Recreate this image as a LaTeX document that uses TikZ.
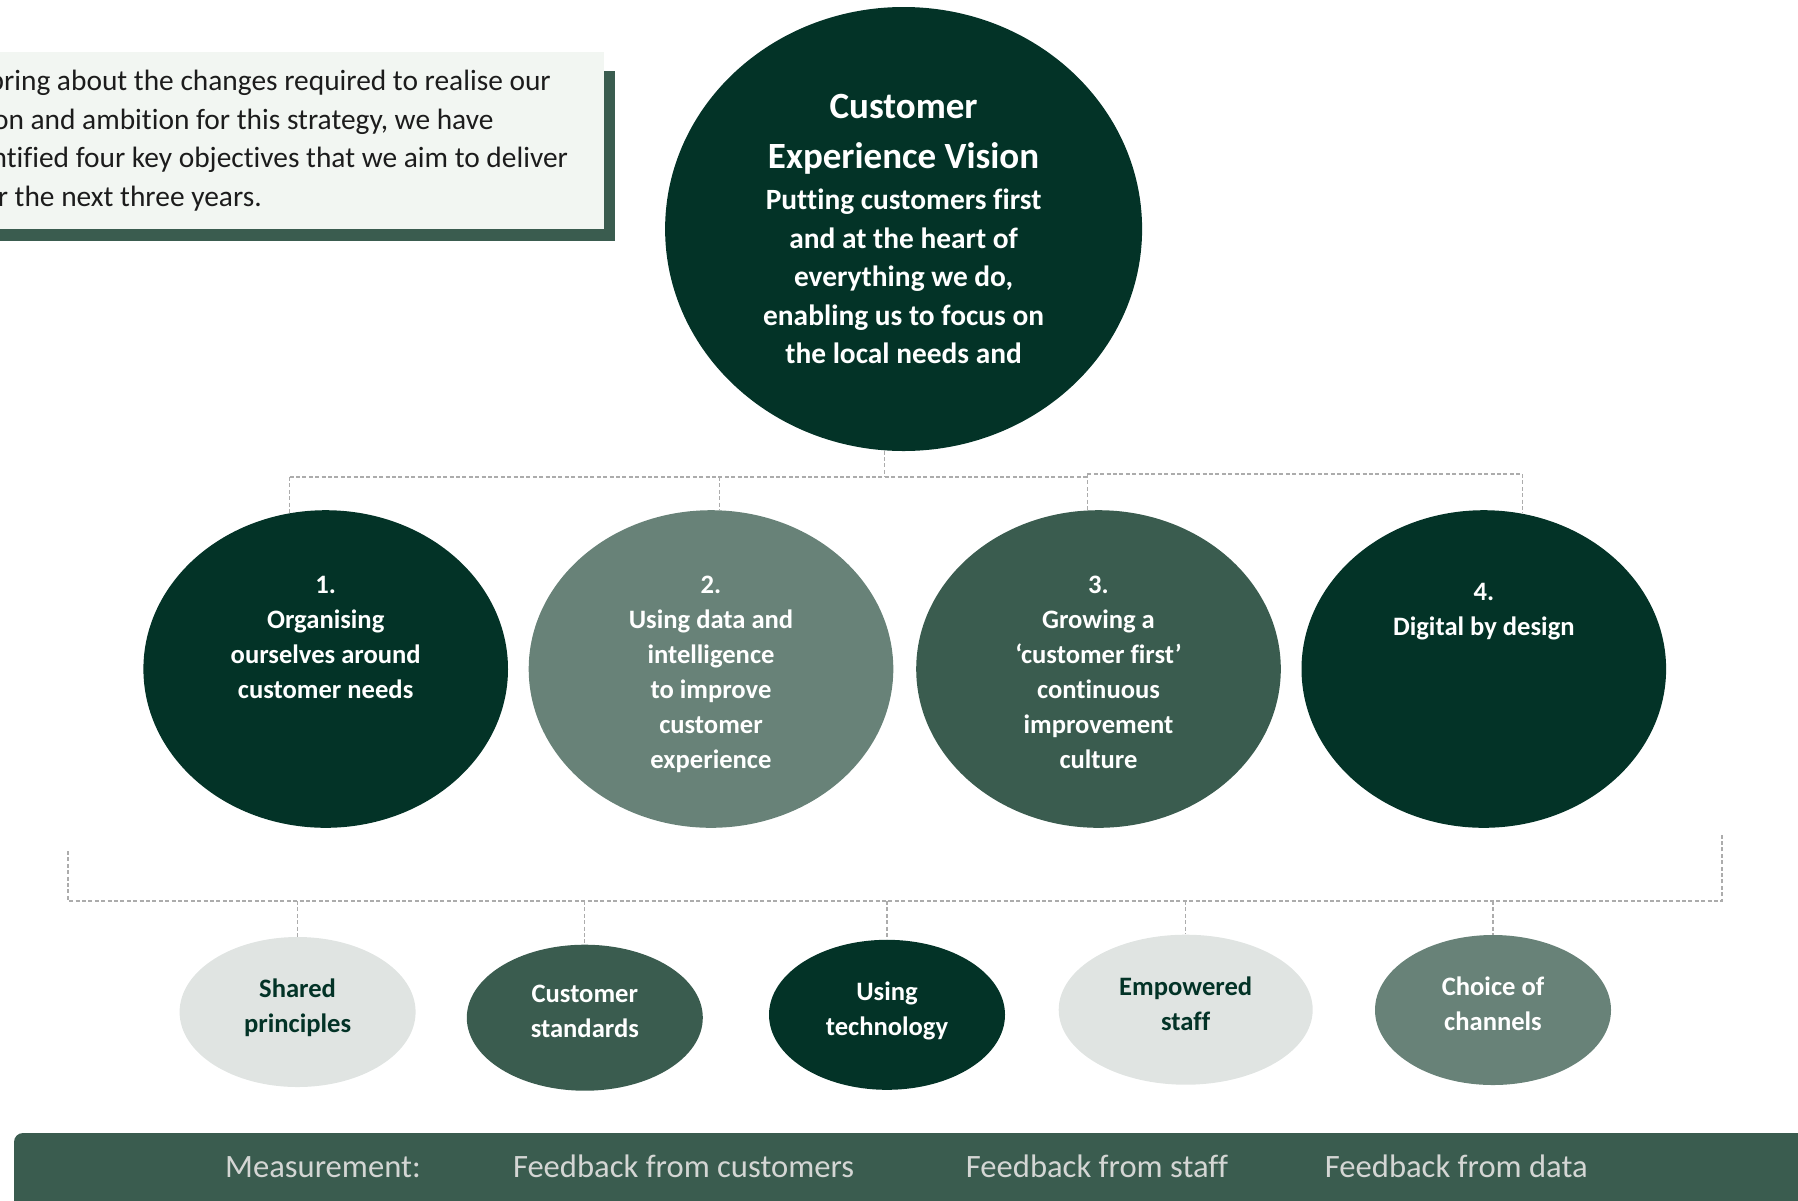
\documentclass[tikz,border=0pt]{standalone}
\usepackage{fontspec}
\setmainfont{Carlito}[Ligatures=NoCommon]
\usetikzlibrary{shapes.geometric,calc}
\definecolor{forest}{RGB}{3,51,39}
\definecolor{pine}{RGB}{58,92,79}
\definecolor{sage}{RGB}{104,130,120}
\definecolor{mist}{RGB}{224,228,226}
\definecolor{paper}{RGB}{242,246,242}
\definecolor{dashgrey}{RGB}{172,172,172}
\definecolor{bartext}{RGB}{212,214,212}
\definecolor{ink}{RGB}{28,28,28}
\newcommand{\goalbox}[2][100pt]{\parbox[c][#1][t]{120pt}{\centering\strut #2}}
\begin{document}
\begin{tikzpicture}[x=0.5pt,y=-0.5pt,
  link/.style={draw=dashgrey,line width=0.6pt,dash pattern=on 2pt off 1.2pt},
  goal/.style={ellipse,minimum width=182.3pt,minimum height=158.8pt,inner sep=0pt,text=white,
    font=\fontsize{13.3}{17.5}\selectfont\bfseries},
  pillar/.style={ellipse,minimum width=118pt,minimum height=75pt,inner sep=0pt,align=center,
    text=white,font=\fontsize{13.3}{17.5}\selectfont\bfseries,
    execute at end node={\rule[-6.4pt]{0pt}{6.4pt}}},
  measure/.style={anchor=base west,inner sep=0pt,text=bartext,font=\fontsize{16.3}{19}\selectfont}]
\useasboundingbox (0,0) rectangle (1798,1200);
\begin{scope}
\clip (0,0) rectangle (1798,1200);
% intro panel
\fill[pine] (0,71) rectangle (615,241);
\fill[paper] (0,52) rectangle (604,229);
\node[anchor=north west,inner sep=0pt,align=left,text=ink,font=\fontsize{14.7}{19.25}\selectfont] (intro) at (-45.6,63.5)
  {\strut To bring about the changes required to realise our\\
   vision and ambition for this strategy, we have\\
   identified four key objectives that we aim to deliver\\
   over the next three years.};
% vision
\node[ellipse,fill=forest,minimum width=238.5pt,minimum height=222pt,inner sep=0pt,text=white,font=\bfseries] (vis) at (903.6,229)
  {\parbox{160pt}{\centering\fontsize{18.5}{25}\selectfont Customer\\ Experience Vision\par\vspace{1.4pt}
   \fontsize{14.7}{19.3}\selectfont Putting customers first\\ and at the heart of\\ everything we do,\\
   enabling us to focus on\\ the local needs and\par}};
% objectives
\node[goal,fill=forest] (o1) at (325.7,669) {\goalbox{1.\\ Organising\\ ourselves around\\ customer needs}};
\node[goal,fill=sage] (o2) at (711,669) {\goalbox{2.\\ Using data and\\ intelligence\\ to improve\\ customer\\ experience}};
\node[goal,fill=pine] (o3) at (1098.5,669) {\goalbox{3.\\ Growing a\\ `customer first'\\ continuous\\ improvement\\ culture}};
\node[goal,fill=forest] (o4) at (1483.8,669) {\goalbox[93.3pt]{4.\\ Digital by design}};
\coordinate (tbusA) at (0,477);
\coordinate (tbusB) at (0,474);
\draw[link] (vis.265) -- (vis.265 |- tbusA);
\draw[link] (o1.103 |- tbusA) -- (o3.94 |- tbusA);
\draw[link] (o3.94 |- tbusB) -- (o4.76 |- tbusB);
\draw[link] (o1.103 |- tbusA) -- (o1.103);
\draw[link] (o2.87.5 |- tbusA) -- (o2.87.5);
\draw[link] (o3.94 |- tbusB) -- (o3.94);
\draw[link] (o4.76 |- tbusB) -- (o4.76);
% enablers
\node[pillar,fill=mist,text=forest] (sp) at (297.6,1012) {Shared\\ principles};
\node[pillar,fill=pine,minimum height=73pt] (cs) at (584.8,1017.7) {Customer\\ standards};
\node[pillar,fill=forest] (ut) at (887,1014.8) {Using\\ technology};
\node[pillar,fill=mist,text=forest,minimum width=127pt] (es) at (1185.7,1009.7) {Empowered\\ staff};
\node[pillar,fill=sage] (cc) at (1493,1010) {Choice of\\ channels};
\coordinate (lbus) at (0,901);
\coordinate (lbL) at (68,851);
\coordinate (lbR) at (1722,835);
\draw[link] (lbL) -- (lbL |- lbus) -- (lbR |- lbus) -- (lbR);
\foreach \p in {sp,cs,ut,es,cc}
  \draw[link] (\p.north |- lbus) -- (\p.north);
% measurement bar
\fill[pine,rounded corners=4.5pt] (14,1133) rectangle (1850,1260);
\node[measure] (mlab) at (224.8,1177) {Measurement:};
\node[measure] (mcus) at (512.6,1177) {Feedback from customers};
\node[measure] (msta) at (965.5,1177) {Feedback from staff};
\node[measure] (mdat) at (1324.5,1177) {Feedback from data};
\end{scope}
\end{tikzpicture}
\end{document}
